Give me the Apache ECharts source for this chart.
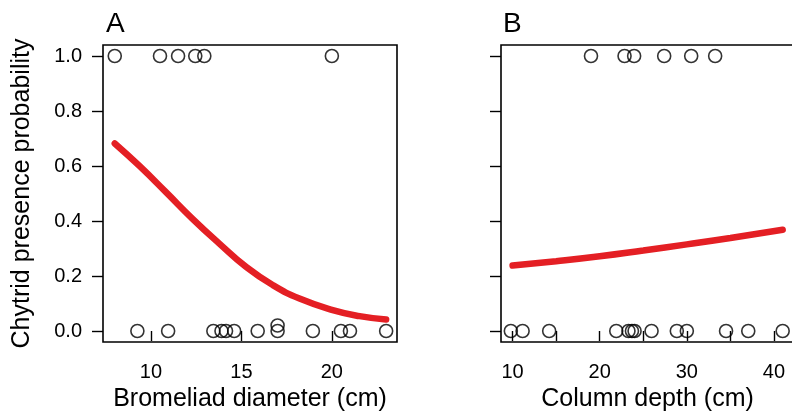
<!DOCTYPE html>
<html>
<head>
<meta charset="utf-8">
<script src="https://cdn.jsdelivr.net/npm/echarts@6/dist/echarts.min.js"></script>
<style>html,body{margin:0;padding:0;background:#fff}#c{width:792px;height:413px}</style>
</head>
<body>
<div id="c"></div>
<script>
// Panel A: Bromeliad diameter
var aPresentX = [8.0, 10.5, 11.5, 12.45, 12.95, 20.0];
var aAbsentX = [9.25, 10.95, 13.45, 13.9, 14.15, 14.6, 15.9, 17.0, 18.95, 20.5, 21.0, 23.0];
var aJitterX = [17.0];
var aJitterY = [0.02];
var aCurveX = [8.0, 9.35, 10.83, 12.3, 13.78, 15.26, 16.73, 18.21, 20.05, 21.53, 23.0];
var aCurveY = [0.682, 0.601, 0.505, 0.408, 0.318, 0.233, 0.167, 0.118, 0.076, 0.054, 0.042];
var aTicks = [10, 15, 20];
// Panel B: Column depth
var bPresentX = [19.0, 22.85, 23.95, 27.4, 30.5, 33.25];
var bAbsentX = [9.8, 11.15, 14.2, 21.9, 23.3, 23.7, 24.0, 25.95, 28.85, 30.0, 34.5, 37.05, 41.0];
var bCurveX = [10, 15, 20, 25, 30, 35, 41];
var bCurveY = [0.238, 0.254, 0.272, 0.293, 0.315, 0.338, 0.368];
var bTicks = [10, 15, 20, 25, 30, 35, 40];
var bTickLabels = [10, 20, 30, 40];
var yTicks = [0, 0.2, 0.4, 0.6, 0.8, 1.0];

var FONT = 'Liberation Sans, Arial, Helvetica, sans-serif';
function pairs(xs, ys) { return xs.map(function (x, i) { return [x, ys[i]]; }); }
function constPairs(xs, y) { return xs.map(function (x) { return [x, y]; }); }

var chart = echarts.init(document.getElementById('c'), null, {renderer: 'canvas'});
var circleStyle = {color: 'rgba(0,0,0,0)', borderColor: '#000', borderWidth: 1.6};
var lineStyle = {color: '#e41f24', width: 6.5, cap: 'round'};

function xAxisCfg(idx, min, max, ticks, labels, name) {
  return {
    type: 'value', gridIndex: idx, min: min, max: max,
    splitLine: {show: false}, axisLine: {show: false},
    axisTick: {show: true, inside: false, length: 10, lineStyle: {color: '#000', width: 1.4}, customValues: ticks},
    axisLabel: {show: true, margin: 20, fontSize: 20, color: '#000', fontFamily: FONT, customValues: labels},
    name: name, nameLocation: 'middle', nameGap: 39,
    nameTextStyle: {fontSize: 25, color: '#000', fontFamily: FONT}
  };
}
function yAxisCfg(idx, showLabels, name) {
  return {
    type: 'value', gridIndex: idx, min: -0.04, max: 1.04,
    splitLine: {show: false}, axisLine: {show: false},
    axisTick: {show: true, inside: false, length: 11, lineStyle: {color: '#000', width: 1.4}, customValues: yTicks},
    axisLabel: {show: showLabels, margin: 21, fontSize: 20, color: '#000', fontFamily: FONT, customValues: yTicks,
      formatter: function (v) { return v.toFixed(1); }},
    name: name, nameLocation: 'middle', nameGap: 68, nameRotate: 90,
    nameTextStyle: {fontSize: 25, color: '#000', fontFamily: FONT}
  };
}

chart.setOption({
  animation: false,
  backgroundColor: '#fff',
  title: [
    {text: 'A', left: 101, top: 5, textStyle: {fontSize: 28, fontWeight: 'normal', color: '#000', fontFamily: FONT}},
    {text: 'B', left: 498, top: 5, textStyle: {fontSize: 28, fontWeight: 'normal', color: '#000', fontFamily: FONT}}
  ],
  grid: [
    {left: 103, top: 45, width: 294, height: 297, show: true, borderColor: '#000', borderWidth: 1.6, backgroundColor: 'transparent', containLabel: false, outerBoundsMode: 'none'},
    {left: 501, top: 45, width: 293, height: 297, show: true, borderColor: '#000', borderWidth: 1.6, backgroundColor: 'transparent', containLabel: false, outerBoundsMode: 'none'}
  ],
  xAxis: [
    xAxisCfg(0, 7.35, 23.6, aTicks, aTicks, 'Bromeliad diameter (cm)'),
    xAxisCfg(1, 8.67, 42.3, bTicks, bTickLabels, 'Column depth (cm)')
  ],
  yAxis: [
    yAxisCfg(0, true, 'Chytrid presence probability'),
    yAxisCfg(1, false, '')
  ],
  series: [
    {type: 'line', xAxisIndex: 0, yAxisIndex: 0, data: pairs(aCurveX, aCurveY), smooth: true, showSymbol: false, lineStyle: lineStyle, z: 2},
    {type: 'scatter', xAxisIndex: 0, yAxisIndex: 0, data: constPairs(aPresentX, 1), symbol: 'circle', symbolSize: 13, itemStyle: circleStyle, z: 3},
    {type: 'scatter', xAxisIndex: 0, yAxisIndex: 0, data: constPairs(aAbsentX, 0), symbol: 'circle', symbolSize: 13, itemStyle: circleStyle, z: 3},
    {type: 'scatter', xAxisIndex: 0, yAxisIndex: 0, data: pairs(aJitterX, aJitterY), symbol: 'circle', symbolSize: 13, itemStyle: circleStyle, z: 3},
    {type: 'line', xAxisIndex: 1, yAxisIndex: 1, data: pairs(bCurveX, bCurveY), smooth: true, showSymbol: false, lineStyle: lineStyle, z: 2},
    {type: 'scatter', xAxisIndex: 1, yAxisIndex: 1, data: constPairs(bPresentX, 1), symbol: 'circle', symbolSize: 13, itemStyle: circleStyle, z: 3},
    {type: 'scatter', xAxisIndex: 1, yAxisIndex: 1, data: constPairs(bAbsentX, 0), symbol: 'circle', symbolSize: 13, itemStyle: circleStyle, z: 3}
  ]
});
</script>
</body>
</html>
